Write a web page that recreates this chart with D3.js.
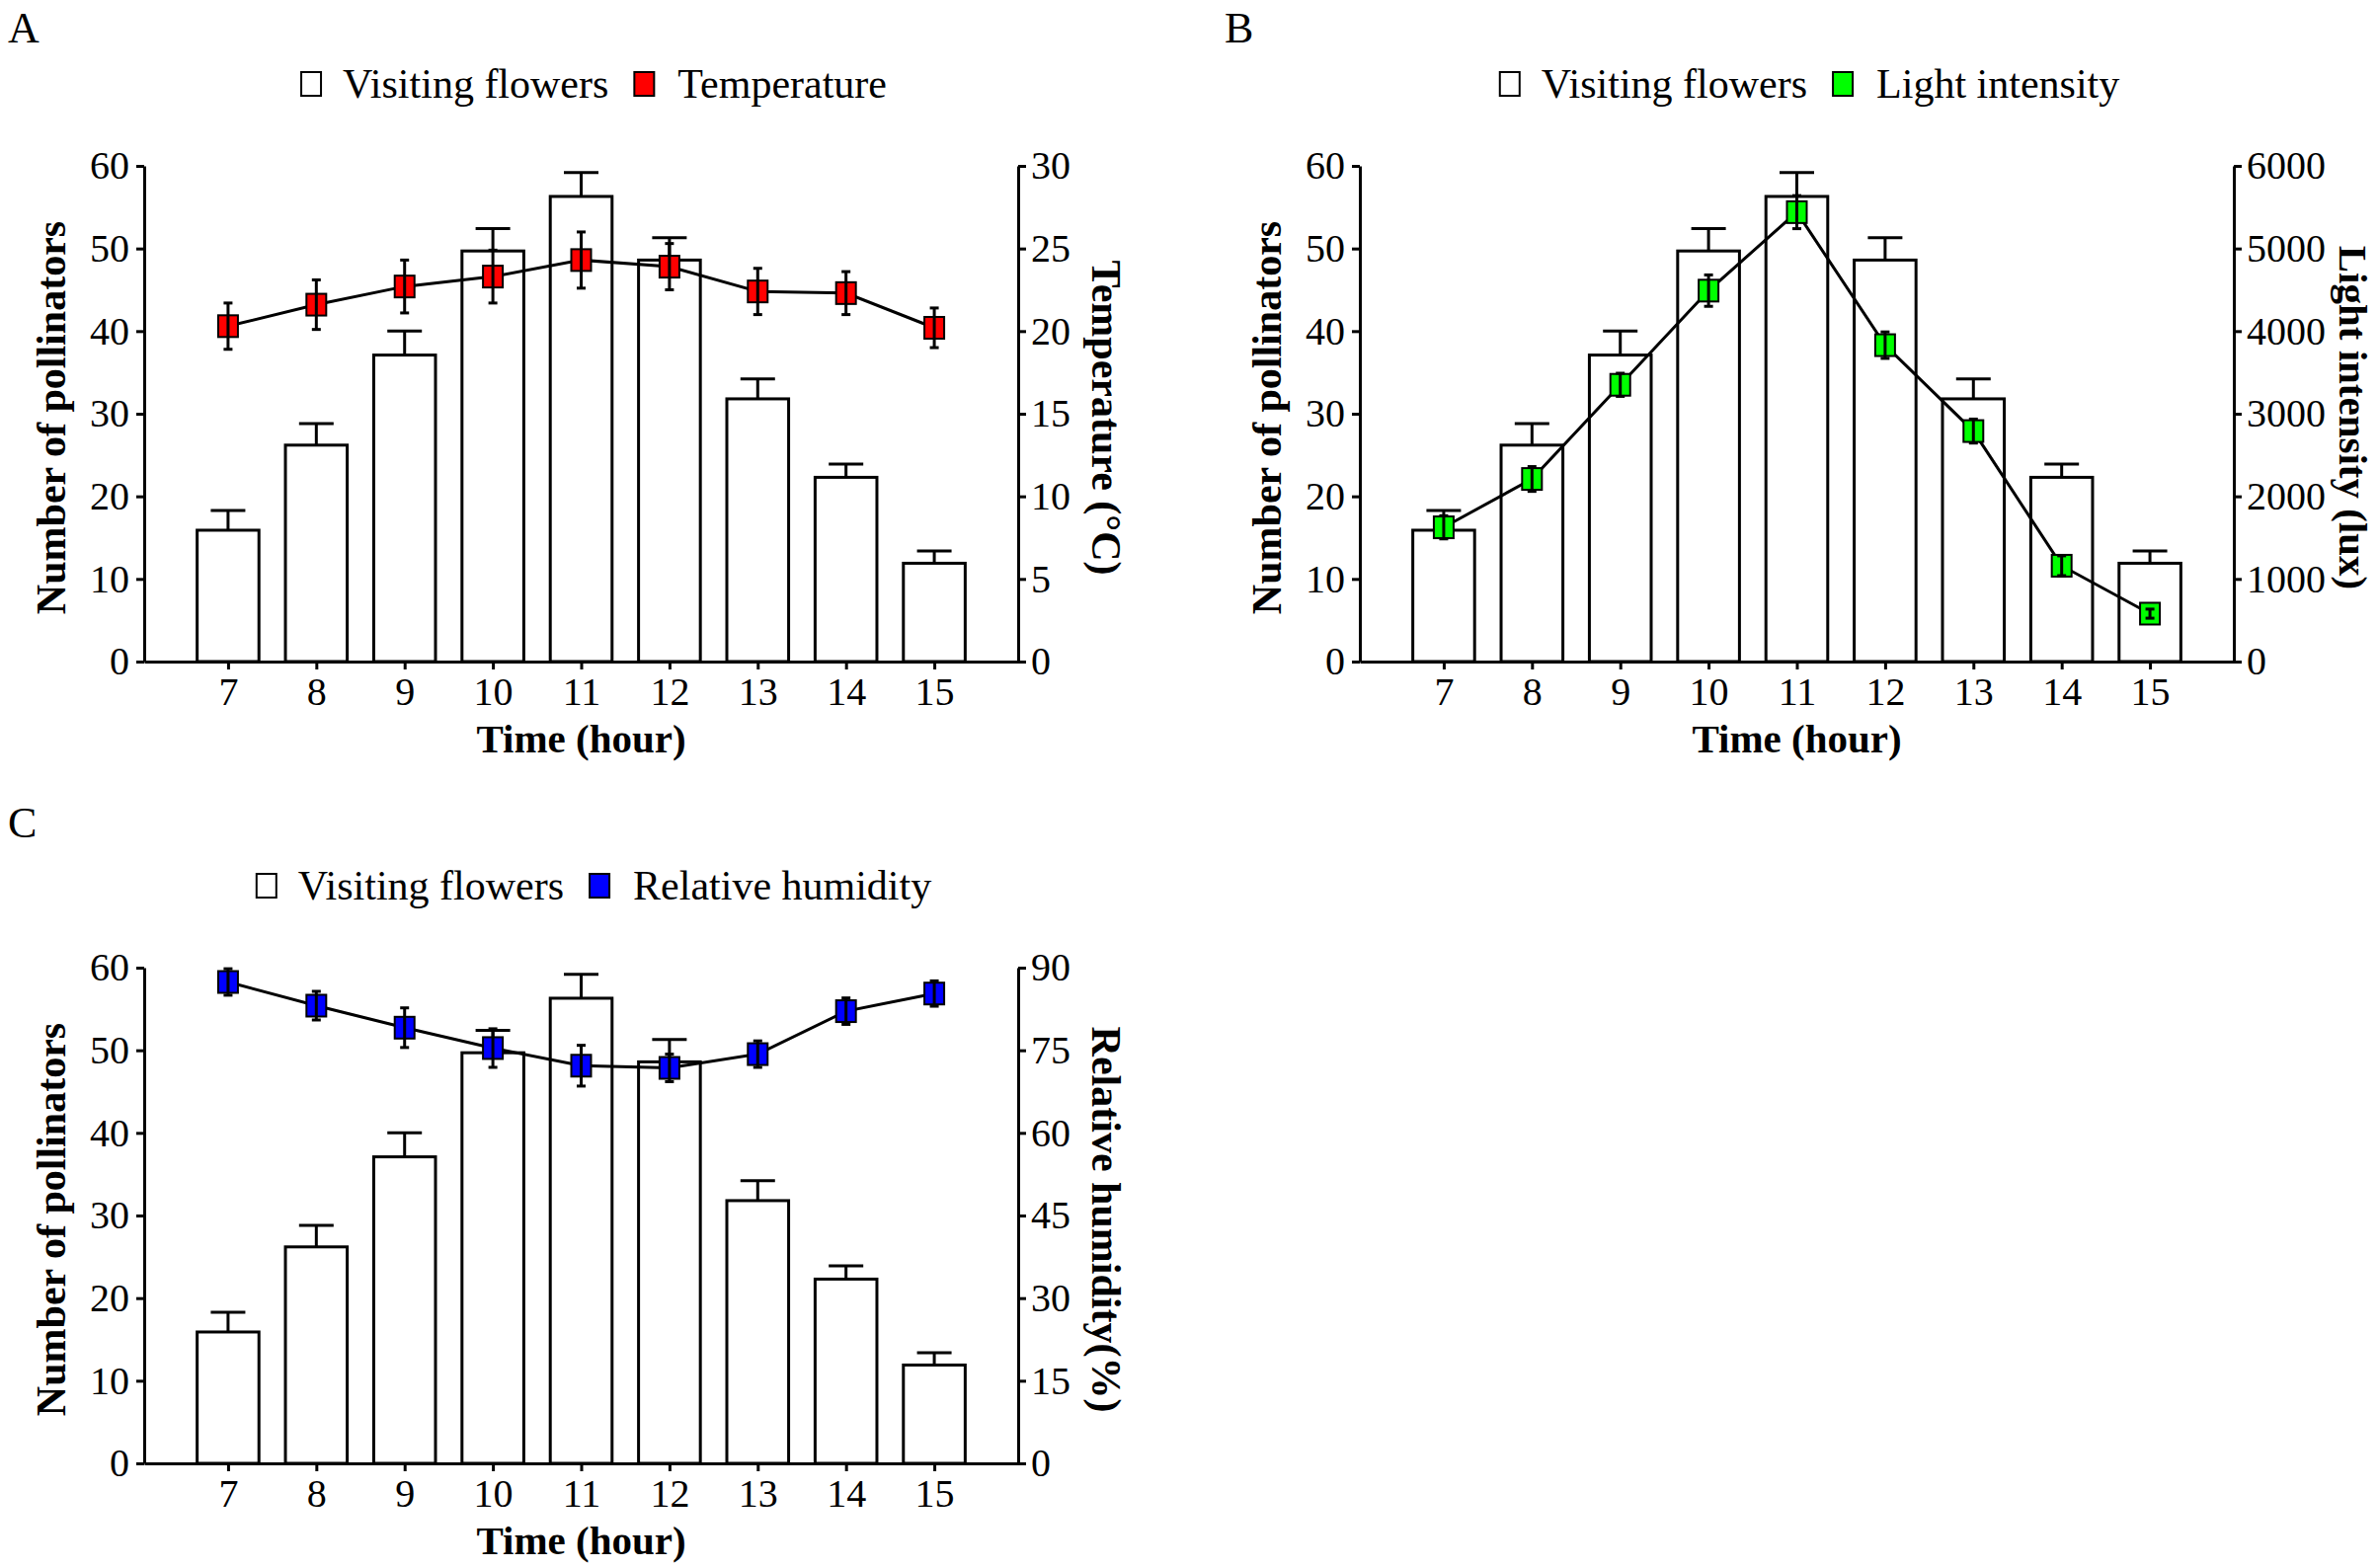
<!DOCTYPE html>
<html>
<head>
<meta charset="utf-8">
<script src="https://cdn.jsdelivr.net/npm/d3@7"></script>
<style>
  html, body { margin: 0; padding: 0; background: #fff; }
  svg { display: block; }
  text { font-family: "Liberation Serif", "Times New Roman", serif; fill: #000; }
</style>
</head>
<body>
<svg id="chart" width="2408" height="1588"></svg>
<script>
// ---------- Data ----------
const hours = [7, 8, 9, 10, 11, 12, 13, 14, 15];
const visits = [15.9, 26.2, 37.1, 49.7, 56.3, 48.6, 31.8, 22.3, 11.9];
const visitsErr = [2.4, 2.6, 2.9, 2.7, 2.9, 2.7, 2.4, 1.6, 1.5];

const temperature = [20.3, 21.6, 22.7, 23.3, 24.3, 23.9, 22.4, 22.3, 20.2];
const temperatureErr = [1.4, 1.5, 1.6, 1.6, 1.7, 1.4, 1.4, 1.3, 1.2];

const light = [1625, 2210, 3350, 4490, 5440, 3830, 2790, 1160, 580];
const lightErr = [140, 150, 140, 190, 200, 160, 145, 120, 55];

const humidity = [87.4, 83.1, 79.1, 75.4, 72.2, 71.8, 74.3, 82.1, 85.3];
const humidityErr = [2.4, 2.6, 3.6, 3.5, 3.7, 2.5, 2.4, 2.4, 2.3];

const leftTicks = [0, 10, 20, 30, 40, 50, 60];
const tempTicks = [0, 5, 10, 15, 20, 25, 30];
const lightTicks = [0, 1000, 2000, 3000, 4000, 5000, 6000];
const humidityTicks = [0, 15, 30, 45, 60, 75, 90];

const barLegend = "Visiting flowers";
const xTitle = "Time (hour)";
const yTitle = "Number of pollinators";

// ---------- Drawing ----------
const svg = d3.select("#chart");

function panel(cfg) {
  const { left, right, top, bottom } = cfg.box;
  const g = svg.append("g");

  const x = d3.scalePoint().domain(hours).range([left, right]).padding(0.95);
  const yL = d3.scaleLinear().domain([0, 60]).range([bottom, top]);
  const yR = d3.scaleLinear().domain(cfg.rDomain).range([bottom, top]);
  const bw = x.step() * 0.7;

  // panel label
  g.append("text").attr("x", cfg.label.x).attr("y", cfg.label.y)
    .attr("font-size", 44).text(cfg.label.text);

  // bars
  g.selectAll("rect.bar").data(hours).join("rect")
    .attr("class", "bar")
    .attr("x", d => x(d) - bw / 2)
    .attr("y", (d, i) => yL(visits[i]))
    .attr("width", bw)
    .attr("height", (d, i) => yL(0) - yL(visits[i]))
    .attr("fill", "#fff").attr("stroke", "#000").attr("stroke-width", 3);

  // bar error bars (upward)
  const be = g.append("g").attr("stroke", "#000").attr("stroke-width", 3);
  hours.forEach((h, i) => {
    const cx = x(h);
    be.append("line").attr("x1", cx).attr("x2", cx)
      .attr("y1", yL(visits[i])).attr("y2", yL(visits[i] + visitsErr[i]));
    be.append("line").attr("x1", cx - 17.5).attr("x2", cx + 17.5)
      .attr("y1", yL(visits[i] + visitsErr[i])).attr("y2", yL(visits[i] + visitsErr[i]));
  });

  // line
  const line = d3.line().x((d, i) => x(hours[i])).y(d => yR(d));
  g.append("path").datum(cfg.values).attr("d", line)
    .attr("fill", "none").attr("stroke", "#000").attr("stroke-width", 3);

  // markers
  const mw = 20, mh = 22;
  g.selectAll("rect.mk").data(cfg.values).join("rect")
    .attr("class", "mk")
    .attr("x", (d, i) => x(hours[i]) - mw / 2)
    .attr("y", d => yR(d) - mh / 2)
    .attr("width", mw).attr("height", mh)
    .attr("fill", cfg.color).attr("stroke", "#000").attr("stroke-width", 2);

  // marker error bars
  const me = g.append("g").attr("stroke", "#000").attr("stroke-width", 3);
  cfg.values.forEach((v, i) => {
    const cx = x(hours[i]);
    const hi = yR(v + cfg.errs[i]), lo = yR(v - cfg.errs[i]);
    me.append("line").attr("x1", cx).attr("x2", cx).attr("y1", hi).attr("y2", lo);
    me.append("line").attr("x1", cx - 4.5).attr("x2", cx + 4.5).attr("y1", hi).attr("y2", hi);
    me.append("line").attr("x1", cx - 4.5).attr("x2", cx + 4.5).attr("y1", lo).attr("y2", lo);
  });

  // axes
  const styleAxis = sel => {
    sel.select(".domain").attr("stroke-width", 3);
    sel.selectAll(".tick line").attr("stroke-width", 3);
    sel.selectAll(".tick text").attr("font-size", 40)
      .attr("font-family", "Liberation Serif, Times New Roman, serif");
  };
  g.append("g").attr("transform", `translate(${left},0)`)
    .call(d3.axisLeft(yL).tickValues(leftTicks).tickSize(8).tickSizeOuter(0).tickPadding(7)
      .tickFormat(d3.format("d")))
    .call(styleAxis);
  g.append("g").attr("transform", `translate(${right},0)`)
    .call(d3.axisRight(yR).tickValues(cfg.rTicks).tickSize(8).tickSizeOuter(0).tickPadding(5)
      .tickFormat(d3.format("d")))
    .call(styleAxis);
  g.append("g").attr("transform", `translate(0,${bottom})`)
    .call(d3.axisBottom(x).tickValues(hours).tickSize(8).tickSizeOuter(0).tickPadding(8))
    .call(styleAxis);

  // axis titles
  const cx = (left + right) / 2, cy = (top + bottom) / 2;
  g.append("text").attr("x", cx).attr("y", bottom + 92)
    .attr("text-anchor", "middle").attr("font-size", 41).attr("font-weight", "bold")
    .text(xTitle);
  g.append("text").attr("transform", `translate(${left - 80},${cy + 4}) rotate(-90)`)
    .attr("text-anchor", "middle").attr("font-size", 42).attr("font-weight", "bold")
    .text(yTitle);
  g.append("text").attr("transform", `translate(${cfg.rTitleX},${cy + 4}) rotate(90)`)
    .attr("text-anchor", "middle").attr("font-size", cfg.rTitleSize).attr("font-weight", "bold")
    .text(cfg.rTitle);

  // legend
  const ly = top - 83;
  const lg = g.append("g");
  const sqW = 20, sqH = 24;
  let px = 0;
  lg.append("rect").attr("x", px).attr("y", ly - sqH / 2).attr("width", sqW).attr("height", sqH)
    .attr("fill", "#fff").attr("stroke", "#000").attr("stroke-width", 2);
  px += sqW + 22;
  const t1 = lg.append("text").attr("x", px).attr("y", ly + 14).attr("font-size", 42).text(barLegend);
  px += t1.node().getComputedTextLength() + 26;
  lg.append("rect").attr("x", px).attr("y", ly - sqH / 2).attr("width", sqW).attr("height", sqH)
    .attr("fill", cfg.color).attr("stroke", "#000").attr("stroke-width", 2);
  px += sqW + 24;
  const t2 = lg.append("text").attr("x", px).attr("y", ly + 14).attr("font-size", 42).text(cfg.legend);
  px += t2.node().getComputedTextLength();
  lg.attr("transform", `translate(${cx + 13 - px / 2},0)`);
}

panel({
  box: { left: 146, right: 1031, top: 168, bottom: 670 },
  label: { text: "A", x: 8, y: 43 },
  values: temperature, errs: temperatureErr, color: "#ff0000",
  rDomain: [0, 30], rTicks: tempTicks,
  rTitle: "Temperature (°C)", rTitleX: 1106, rTitleSize: 42, legend: "Temperature"
});
panel({
  box: { left: 1377, right: 2262, top: 168, bottom: 670 },
  label: { text: "B", x: 1240, y: 43 },
  values: light, errs: lightErr, color: "#00ff00",
  rDomain: [0, 6000], rTicks: lightTicks,
  rTitle: "Light intensity (lux)", rTitleX: 2369, rTitleSize: 41, legend: "Light intensity"
});
panel({
  box: { left: 146, right: 1031, top: 980, bottom: 1482 },
  label: { text: "C", x: 8, y: 848 },
  values: humidity, errs: humidityErr, color: "#0000ff",
  rDomain: [0, 90], rTicks: humidityTicks,
  rTitle: "Relative humidity(%)", rTitleX: 1106, rTitleSize: 42, legend: "Relative humidity"
});
</script>
</body>
</html>
